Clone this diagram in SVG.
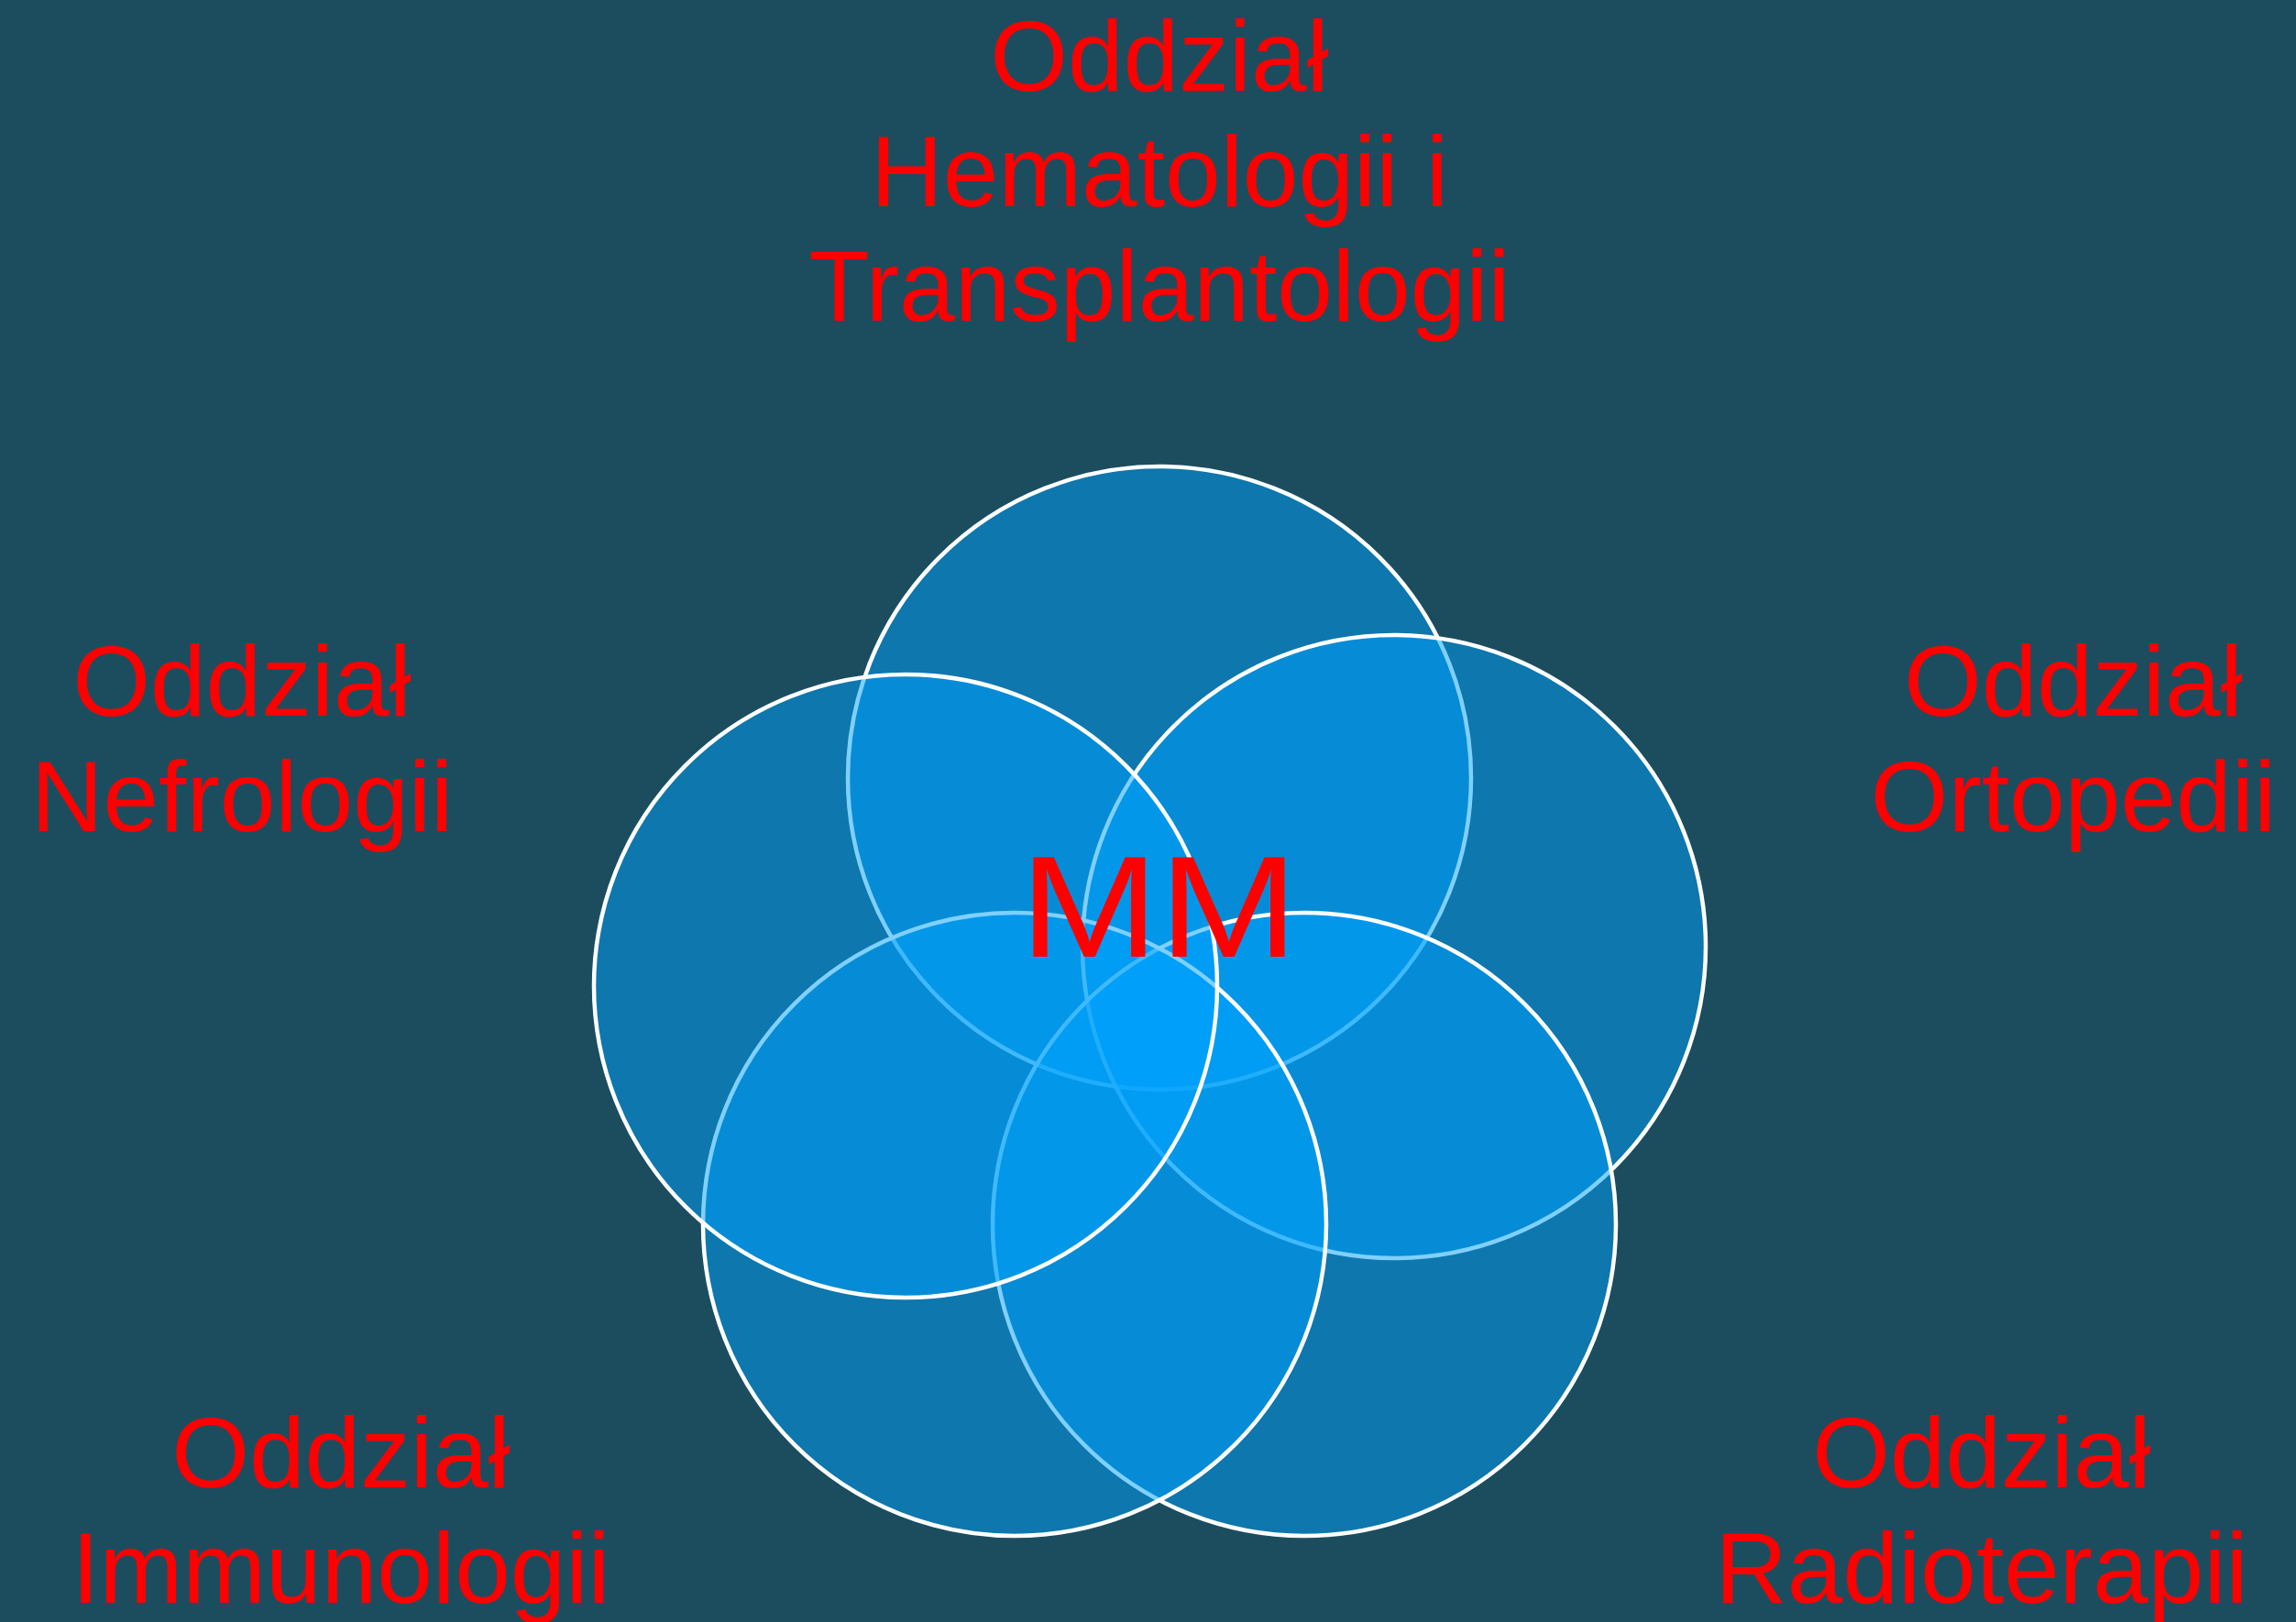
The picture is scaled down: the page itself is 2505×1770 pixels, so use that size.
<svg xmlns="http://www.w3.org/2000/svg" width="2505" height="1770" viewBox="0 0 2505 1770">
  <style>
    .c { fill: rgb(0,161,253); fill-opacity: 0.5; stroke: #ffffff; stroke-width: 4.5; }
    .lbl { font-family: "Liberation Sans", Arial, sans-serif; font-size: 109px; fill: #ff0000; text-anchor: middle; }
    .mm { font-family: "Liberation Sans", Arial, sans-serif; font-size: 158px; fill: #ff0000; text-anchor: middle; }
  </style>
  <rect x="0" y="0" width="2505" height="1770" fill="#1b4d5f"/>

  <g id="venn">
    <g id="circle-top"><circle class="c" cx="1265" cy="849" r="340"/></g>
    <g id="circle-right"><circle class="c" cx="1521" cy="1033" r="340"/></g>
    <g id="circle-bottom-right"><circle class="c" cx="1423" cy="1336" r="340"/></g>
    <g id="circle-bottom-left"><circle class="c" cx="1107" cy="1336" r="340"/></g>
    <g id="circle-left"><circle class="c" cx="988" cy="1076" r="340"/></g>
  </g>

  <g id="center-label">
    <text class="mm" transform="translate(1264.5,1044) scale(1.154,1)" x="0" y="0">MM</text>
  </g>

  <g id="label-hematologia">
    <text class="lbl" x="1265" y="99">Oddział</text>
    <text class="lbl" x="1265" y="225">Hematologii i</text>
    <text class="lbl" x="1265" y="350">Transplantologii</text>
  </g>
  <g id="label-nefrologia">
    <text class="lbl" x="264" y="781">Oddział</text>
    <text class="lbl" x="264" y="907">Nefrologii</text>
  </g>
  <g id="label-ortopedia">
    <text class="lbl" x="2262" y="781">Oddział</text>
    <text class="lbl" x="2262" y="907">Ortopedii</text>
  </g>
  <g id="label-immunologia">
    <text class="lbl" x="372" y="1623">Oddział</text>
    <text class="lbl" x="372" y="1749">Immunologii</text>
  </g>
  <g id="label-radioterapia">
    <text class="lbl" x="2162" y="1623">Oddział</text>
    <text class="lbl" x="2162" y="1749">Radioterapii</text>
  </g>
</svg>
